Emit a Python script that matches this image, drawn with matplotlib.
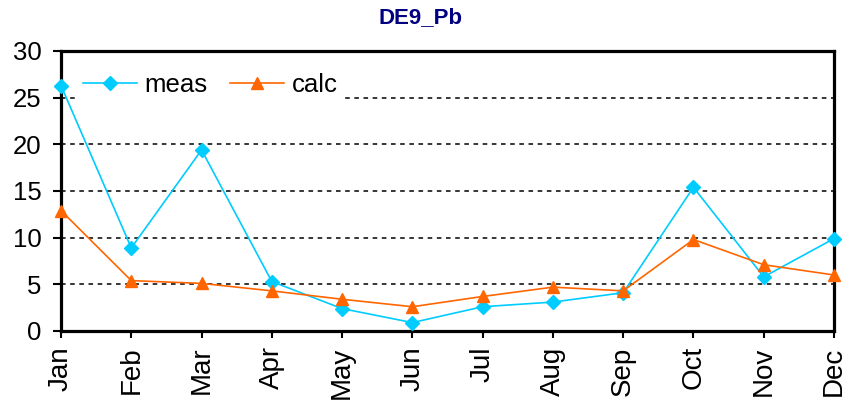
import matplotlib
matplotlib.use("Agg")
import matplotlib.pyplot as plt

months = ["Jan", "Feb", "Mar", "Apr", "May", "Jun", "Jul", "Aug", "Sep", "Oct", "Nov", "Dec"]
meas = [26.3, 8.9, 19.4, 5.3, 2.4, 0.9, 2.6, 3.1, 4.1, 15.4, 5.8, 9.9]
calc = [12.9, 5.4, 5.1, 4.3, 3.4, 2.6, 3.7, 4.7, 4.3, 9.8, 7.1, 6.0]
yticks = [0, 5, 10, 15, 20, 25, 30]

plt.rcParams['font.family'] = ['Liberation Sans', 'DejaVu Sans']

fig = plt.figure(figsize=(8.43, 4.0), dpi=100)
ax = fig.add_axes([61/843, 69/400, (834-61)/843, (331-51)/400])

x = list(range(len(months)))
ax.plot(x, meas, color='#00CCFF', lw=1.2, marker='D', ms=7.5, label='meas', clip_on=False, zorder=3)
ax.plot(x, calc, color='#FF6600', lw=1.2, marker='^', ms=9, label='calc', clip_on=False, zorder=3)

ax.set_xlim(0, 11)
ax.set_ylim(0, 30)
ax.set_yticks(yticks)
ax.set_xticks(x)
ax.set_xticklabels(months, rotation=90, fontsize=20)
ax.tick_params(axis='y', labelsize=18.5, length=6, width=1.5, direction='out', pad=8)
ax.tick_params(axis='x', length=5, width=1.5, direction='out', pad=6)

for s in ax.spines.values():
    s.set_linewidth(2.3)
    s.set_color('black')

ax.yaxis.grid(True, color='black', linestyle=(0, (3, 3)), linewidth=1.1)
ax.set_axisbelow(True)

fig.text(420/843, 1 - 18/400, "DE9_Pb", ha='center', va='center', fontsize=16,
         fontweight='bold', color='#000080')

leg = ax.legend(loc='upper left', ncol=2, fontsize=18.5, frameon=True, framealpha=1,
                facecolor='white', edgecolor='none', fancybox=False,
                bbox_to_anchor=(0.022, 0.94), borderpad=0.2, handlelength=2.1,
                handletextpad=0.3, columnspacing=0.85, borderaxespad=0)
leg.set_zorder(2)

fig.savefig("out.png", dpi=100)
